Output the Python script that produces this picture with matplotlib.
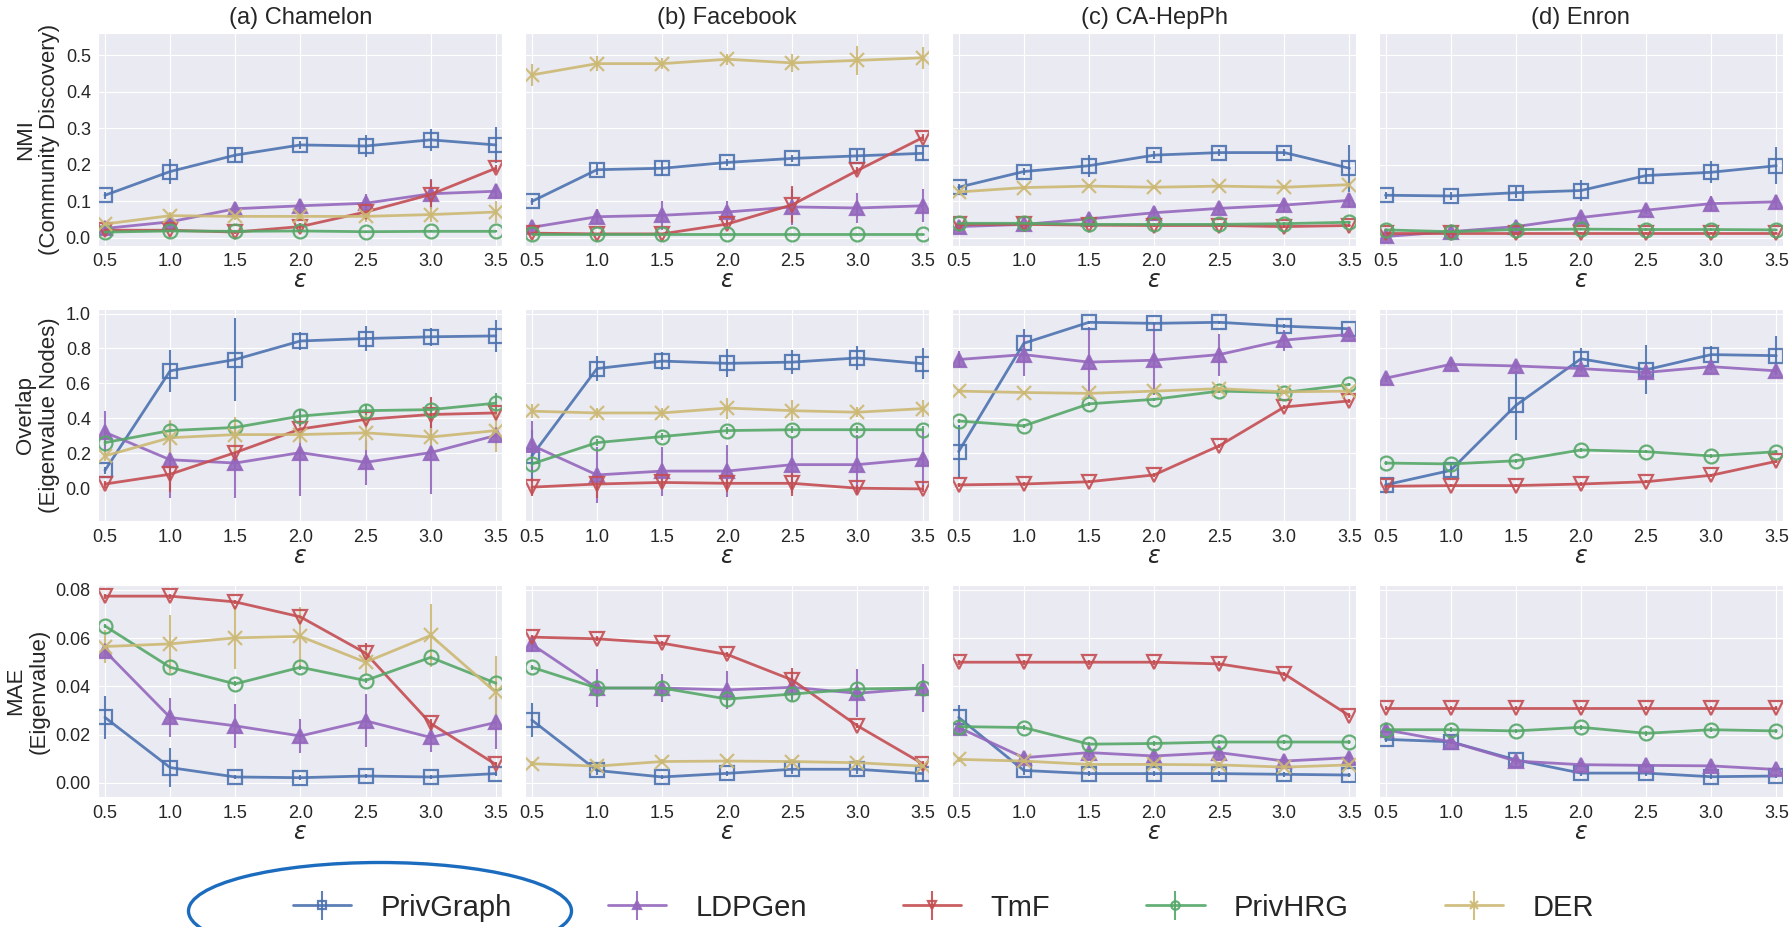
import numpy as np
import matplotlib.pyplot as plt
import seaborn as sns
from matplotlib.patches import Ellipse

sns.set_style('darkgrid')
plt.rcParams['font.family'] = ['Liberation Sans', 'DejaVu Sans']

eps = [0.5, 1.0, 1.5, 2.0, 2.5, 3.0, 3.5]
methods = ['PrivGraph', 'LDPGen', 'TmF', 'PrivHRG', 'DER']
titles = ['(a) Chamelon', '(b) Facebook', '(c) CA-HepPh', '(d) Enron']
ylabels = ['NMI\n(Community Discovery)', 'Overlap\n(Eigenvalue Nodes)', 'MAE\n(Eigenvalue)']

# ---- NMI (community discovery) ----
nmi_chamelon = {
    'PrivGraph': [0.116, 0.181, 0.226, 0.254, 0.251, 0.268, 0.254],
    'LDPGen':    [0.025, 0.043, 0.079, 0.087, 0.094, 0.120, 0.127],
    'TmF':       [0.020, 0.020, 0.015, 0.030, 0.070, 0.118, 0.190],
    'PrivHRG':   [0.015, 0.018, 0.017, 0.018, 0.016, 0.017, 0.017],
    'DER':       [0.037, 0.060, 0.058, 0.058, 0.058, 0.063, 0.070],
}
nmi_chamelon_err = {
    'PrivGraph': [0.010, 0.035, 0.020, 0.010, 0.030, 0.030, 0.050],
    'LDPGen':    [0.010, 0.015, 0.015, 0.020, 0.025, 0.040, 0.020],
    'TmF':       [0.010, 0.005, 0.005, 0.010, 0.020, 0.040, 0.010],
    'PrivHRG':   [0.003, 0.003, 0.003, 0.003, 0.003, 0.003, 0.003],
    'DER':       [0.005, 0.010, 0.010, 0.010, 0.015, 0.020, 0.030],
}
nmi_facebook = {
    'PrivGraph': [0.099, 0.186, 0.190, 0.206, 0.217, 0.224, 0.231],
    'LDPGen':    [0.028, 0.057, 0.061, 0.070, 0.084, 0.081, 0.087],
    'TmF':       [0.012, 0.010, 0.010, 0.037, 0.090, 0.184, 0.274],
    'PrivHRG':   [0.009, 0.009, 0.009, 0.009, 0.009, 0.009, 0.009],
    'DER':       [0.446, 0.477, 0.477, 0.489, 0.479, 0.486, 0.493],
}
nmi_facebook_err = {
    'PrivGraph': [0.010, 0.015, 0.020, 0.010, 0.010, 0.015, 0.020],
    'LDPGen':    [0.010, 0.020, 0.040, 0.030, 0.050, 0.040, 0.045],
    'TmF':       [0.003, 0.003, 0.003, 0.010, 0.050, 0.010, 0.010],
    'PrivHRG':   [0.002, 0.002, 0.002, 0.002, 0.002, 0.002, 0.002],
    'DER':       [0.030, 0.020, 0.015, 0.015, 0.025, 0.040, 0.030],
}
nmi_hepph = {
    'PrivGraph': [0.138, 0.181, 0.197, 0.226, 0.233, 0.233, 0.190],
    'LDPGen':    [0.030, 0.036, 0.051, 0.068, 0.080, 0.089, 0.102],
    'TmF':       [0.036, 0.036, 0.034, 0.033, 0.033, 0.030, 0.033],
    'PrivHRG':   [0.039, 0.039, 0.036, 0.036, 0.036, 0.038, 0.042],
    'DER':       [0.125, 0.137, 0.141, 0.138, 0.141, 0.138, 0.145],
}
nmi_hepph_err = {
    'PrivGraph': [0.010, 0.010, 0.030, 0.010, 0.010, 0.010, 0.065],
    'LDPGen':    [0.005, 0.005, 0.010, 0.010, 0.012, 0.015, 0.020],
    'TmF':       [0.005, 0.005, 0.005, 0.005, 0.005, 0.005, 0.005],
    'PrivHRG':   [0.004, 0.004, 0.004, 0.004, 0.004, 0.004, 0.004],
    'DER':       [0.005, 0.005, 0.005, 0.005, 0.005, 0.005, 0.005],
}
nmi_enron = {
    'PrivGraph': [0.116, 0.114, 0.123, 0.129, 0.170, 0.179, 0.197],
    'LDPGen':    [0.003, 0.016, 0.030, 0.055, 0.075, 0.093, 0.098],
    'TmF':       [0.012, 0.012, 0.012, 0.012, 0.012, 0.012, 0.012],
    'PrivHRG':   [0.021, 0.016, 0.022, 0.023, 0.022, 0.022, 0.021],
}
nmi_enron_err = {
    'PrivGraph': [0.010, 0.010, 0.015, 0.030, 0.020, 0.030, 0.050],
    'LDPGen':    [0.003, 0.005, 0.010, 0.010, 0.010, 0.020, 0.020],
    'TmF':       [0.003, 0.003, 0.003, 0.003, 0.003, 0.003, 0.003],
    'PrivHRG':   [0.003, 0.003, 0.003, 0.003, 0.003, 0.003, 0.003],
}

# ---- Overlap (eigenvalue nodes) ----
ovl_chamelon = {
    'PrivGraph': [0.102, 0.672, 0.737, 0.843, 0.857, 0.867, 0.872],
    'LDPGen':    [0.320, 0.163, 0.144, 0.204, 0.148, 0.204, 0.302],
    'TmF':       [0.024, 0.080, 0.204, 0.339, 0.394, 0.422, 0.431],
    'PrivHRG':   [0.261, 0.330, 0.348, 0.413, 0.444, 0.450, 0.487],
    'DER':       [0.185, 0.289, 0.307, 0.307, 0.317, 0.293, 0.330],
}
ovl_chamelon_err = {
    'PrivGraph': [0.020, 0.120, 0.240, 0.050, 0.070, 0.050, 0.090],
    'LDPGen':    [0.120, 0.220, 0.200, 0.250, 0.130, 0.240, 0.050],
    'TmF':       [0.020, 0.100, 0.030, 0.030, 0.050, 0.100, 0.030],
    'PrivHRG':   [0.020, 0.030, 0.020, 0.030, 0.040, 0.020, 0.060],
    'DER':       [0.030, 0.100, 0.100, 0.050, 0.100, 0.050, 0.120],
}
ovl_facebook = {
    'PrivGraph': [0.185, 0.685, 0.728, 0.715, 0.722, 0.746, 0.713],
    'LDPGen':    [0.246, 0.076, 0.098, 0.098, 0.135, 0.135, 0.169],
    'TmF':       [0.006, 0.024, 0.033, 0.028, 0.028, 0.000, -0.004],
    'PrivHRG':   [0.139, 0.261, 0.296, 0.330, 0.335, 0.335, 0.335],
    'DER':       [0.441, 0.431, 0.431, 0.459, 0.444, 0.435, 0.456],
}
ovl_facebook_err = {
    'PrivGraph': [0.150, 0.070, 0.050, 0.080, 0.070, 0.070, 0.090],
    'LDPGen':    [0.140, 0.160, 0.140, 0.150, 0.160, 0.170, 0.160],
    'TmF':       [0.050, 0.080, 0.040, 0.050, 0.070, 0.020, 0.020],
    'PrivHRG':   [0.020, 0.020, 0.020, 0.020, 0.020, 0.020, 0.020],
    'DER':       [0.040, 0.030, 0.030, 0.060, 0.060, 0.030, 0.050],
}
ovl_hepph = {
    'PrivGraph': [0.210, 0.830, 0.950, 0.944, 0.950, 0.928, 0.913],
    'LDPGen':    [0.737, 0.765, 0.722, 0.733, 0.765, 0.848, 0.881],
    'TmF':       [0.019, 0.024, 0.037, 0.076, 0.243, 0.465, 0.500],
    'PrivHRG':   [0.385, 0.357, 0.483, 0.509, 0.556, 0.548, 0.594],
    'DER':       [0.556, 0.548, 0.543, 0.556, 0.570, 0.552, 0.556],
}
ovl_hepph_err = {
    'PrivGraph': [0.150, 0.080, 0.010, 0.010, 0.010, 0.010, 0.010],
    'LDPGen':    [0.050, 0.120, 0.200, 0.200, 0.120, 0.060, 0.020],
    'TmF':       [0.010, 0.010, 0.010, 0.010, 0.010, 0.010, 0.010],
    'PrivHRG':   [0.010, 0.010, 0.010, 0.010, 0.010, 0.010, 0.010],
    'DER':       [0.010, 0.010, 0.010, 0.010, 0.010, 0.010, 0.010],
}
ovl_enron = {
    'PrivGraph': [0.019, 0.102, 0.474, 0.741, 0.678, 0.765, 0.759],
    'LDPGen':    [0.630, 0.709, 0.700, 0.685, 0.663, 0.696, 0.672],
    'TmF':       [0.011, 0.015, 0.015, 0.024, 0.037, 0.074, 0.154],
    'PrivHRG':   [0.144, 0.139, 0.157, 0.219, 0.209, 0.185, 0.209],
}
ovl_enron_err = {
    'PrivGraph': [0.030, 0.030, 0.200, 0.060, 0.140, 0.050, 0.110],
    'LDPGen':    [0.020, 0.020, 0.020, 0.020, 0.020, 0.020, 0.020],
    'TmF':       [0.010, 0.010, 0.010, 0.010, 0.010, 0.010, 0.010],
    'PrivHRG':   [0.010, 0.010, 0.010, 0.010, 0.010, 0.010, 0.010],
}

# ---- MAE (eigenvalue) ----
mae_chamelon = {
    'PrivGraph': [0.0271, 0.0063, 0.0024, 0.0021, 0.0028, 0.0024, 0.0038],
    'LDPGen':    [0.0546, 0.0271, 0.0236, 0.0194, 0.0257, 0.0188, 0.0250],
    'TmF':       [0.0774, 0.0774, 0.0750, 0.0688, 0.0538, 0.0246, 0.0076],
    'PrivHRG':   [0.0650, 0.0479, 0.0410, 0.0479, 0.0424, 0.0520, 0.0413],
    'DER':       [0.0565, 0.0576, 0.0601, 0.0607, 0.0500, 0.0611, 0.0375],
}
mae_chamelon_err = {
    'PrivGraph': [0.009, 0.008, 0.001, 0.001, 0.001, 0.001, 0.001],
    'LDPGen':    [0.003, 0.008, 0.009, 0.007, 0.011, 0.006, 0.011],
    'TmF':       [0.001, 0.001, 0.001, 0.001, 0.004, 0.002, 0.001],
    'PrivHRG':   [0.001, 0.001, 0.001, 0.001, 0.001, 0.001, 0.001],
    'DER':       [0.007, 0.012, 0.013, 0.012, 0.005, 0.013, 0.015],
}
mae_facebook = {
    'PrivGraph': [0.0260, 0.0051, 0.0024, 0.0039, 0.0056, 0.0056, 0.0038],
    'LDPGen':    [0.0574, 0.0393, 0.0393, 0.0385, 0.0396, 0.0371, 0.0393],
    'TmF':       [0.0604, 0.0597, 0.0579, 0.0532, 0.0426, 0.0236, 0.0079],
    'PrivHRG':   [0.0479, 0.0393, 0.0393, 0.0347, 0.0368, 0.0389, 0.0393],
    'DER':       [0.0079, 0.0069, 0.0088, 0.0090, 0.0088, 0.0083, 0.0069],
}
mae_facebook_err = {
    'PrivGraph': [0.007, 0.002, 0.001, 0.001, 0.002, 0.002, 0.003],
    'LDPGen':    [0.003, 0.008, 0.006, 0.008, 0.005, 0.010, 0.010],
    'TmF':       [0.001, 0.001, 0.001, 0.001, 0.005, 0.001, 0.001],
    'PrivHRG':   [0.001, 0.001, 0.002, 0.003, 0.003, 0.002, 0.002],
    'DER':       [0.001, 0.001, 0.001, 0.001, 0.001, 0.001, 0.001],
}
mae_hepph = {
    'PrivGraph': [0.0271, 0.0051, 0.0038, 0.0038, 0.0038, 0.0035, 0.0032],
    'LDPGen':    [0.0229, 0.0104, 0.0125, 0.0111, 0.0125, 0.0090, 0.0104],
    'TmF':       [0.0500, 0.0500, 0.0500, 0.0500, 0.0493, 0.0451, 0.0278],
    'PrivHRG':   [0.0233, 0.0229, 0.0160, 0.0163, 0.0169, 0.0169, 0.0169],
    'DER':       [0.0097, 0.0090, 0.0076, 0.0076, 0.0074, 0.0065, 0.0074],
}
mae_hepph_err = {
    'PrivGraph': [0.005, 0.002, 0.001, 0.001, 0.001, 0.001, 0.001],
    'LDPGen':    [0.002, 0.002, 0.002, 0.002, 0.002, 0.002, 0.002],
    'TmF':       [0.001, 0.001, 0.001, 0.001, 0.001, 0.001, 0.001],
    'PrivHRG':   [0.001, 0.001, 0.001, 0.001, 0.001, 0.001, 0.001],
    'DER':       [0.001, 0.001, 0.001, 0.001, 0.001, 0.001, 0.001],
}
mae_enron = {
    'PrivGraph': [0.0180, 0.0170, 0.0095, 0.0040, 0.0040, 0.0025, 0.0028],
    'LDPGen':    [0.0220, 0.0170, 0.0090, 0.0075, 0.0072, 0.0070, 0.0055],
    'TmF':       [0.0310, 0.0310, 0.0310, 0.0310, 0.0310, 0.0310, 0.0310],
    'PrivHRG':   [0.0220, 0.0220, 0.0215, 0.0230, 0.0205, 0.0220, 0.0215],
}
mae_enron_err = {
    'PrivGraph': [0.001, 0.001, 0.002, 0.001, 0.001, 0.001, 0.001],
    'LDPGen':    [0.001, 0.001, 0.001, 0.001, 0.001, 0.001, 0.001],
    'TmF':       [0.001, 0.001, 0.001, 0.001, 0.001, 0.001, 0.001],
    'PrivHRG':   [0.001, 0.001, 0.001, 0.001, 0.001, 0.001, 0.001],
}

rows = [
    [(nmi_chamelon, nmi_chamelon_err), (nmi_facebook, nmi_facebook_err),
     (nmi_hepph, nmi_hepph_err), (nmi_enron, nmi_enron_err)],
    [(ovl_chamelon, ovl_chamelon_err), (ovl_facebook, ovl_facebook_err),
     (ovl_hepph, ovl_hepph_err), (ovl_enron, ovl_enron_err)],
    [(mae_chamelon, mae_chamelon_err), (mae_facebook, mae_facebook_err),
     (mae_hepph, mae_hepph_err), (mae_enron, mae_enron_err)],
]
ylims = [(-0.022, 0.56), (-0.19, 1.025), (-0.006, 0.082)]
yticks = [np.arange(0, 0.51, 0.1), np.arange(0, 1.01, 0.2), np.arange(0, 0.081, 0.02)]
yfmt = ['%.1f', '%.1f', '%.2f']

colors = {'PrivGraph': '#4C72B0', 'LDPGen': '#9467BD', 'TmF': '#C44E52',
          'PrivHRG': '#55A868', 'DER': '#CCB974'}
markers = {'PrivGraph': 's', 'LDPGen': '^', 'TmF': 'v', 'PrivHRG': 'o', 'DER': 'x'}

fig, axes = plt.subplots(3, 4, figsize=(17.9, 9.27), dpi=100, sharey='row')
fig.subplots_adjust(left=0.055, right=0.996, top=0.964, bottom=0.14,
                    wspace=0.057, hspace=0.30)

for r in range(3):
    for c in range(4):
        ax = axes[r][c]
        vals, errs = rows[r][c]
        for m in methods:
            if m not in vals:
                continue
            col = colors[m]
            rgb = plt.matplotlib.colors.to_rgb(col)
            mfc = (*rgb, 0.25) if m == 'LDPGen' else 'none'
            ax.errorbar(eps, vals[m], yerr=errs[m], color=col, marker=markers[m],
                        ms=10, mfc=mfc, mec=col, mew=1.6, lw=2.0,
                        elinewidth=1.5, capsize=0, alpha=0.9, label=m)
        ax.set_xlim(0.45, 3.55)
        ax.set_xticks(eps)
        ax.set_ylim(*ylims[r])
        ax.set_yticks(yticks[r])
        ax.yaxis.set_major_formatter(plt.FormatStrFormatter(yfmt[r]))
        ax.tick_params(labelsize=13, pad=2, colors='#262626')
        ax.set_xlabel(r'$\epsilon$', fontsize=17, labelpad=0)
        if r == 0:
            ax.set_title(titles[c], fontsize=17, pad=7)
        if c == 0:
            ax.set_ylabel(ylabels[r], fontsize=16, labelpad=4)

handles, labels = axes[0][0].get_legend_handles_labels()
fig.legend(handles, labels, loc='center', bbox_to_anchor=(0.527, 0.021), ncol=5,
           frameon=False, fontsize=21, handlelength=2.0, handletextpad=1.0,
           columnspacing=3.3, markerscale=0.6)

ring = Ellipse((380 / 1790, 1 - 911 / 927), 383 / 1790, 97 / 927,
               transform=fig.transFigure, fill=False, edgecolor='#1B6BBE', lw=2.4)
fig.add_artist(ring)

plt.savefig('out.png', dpi=100)
